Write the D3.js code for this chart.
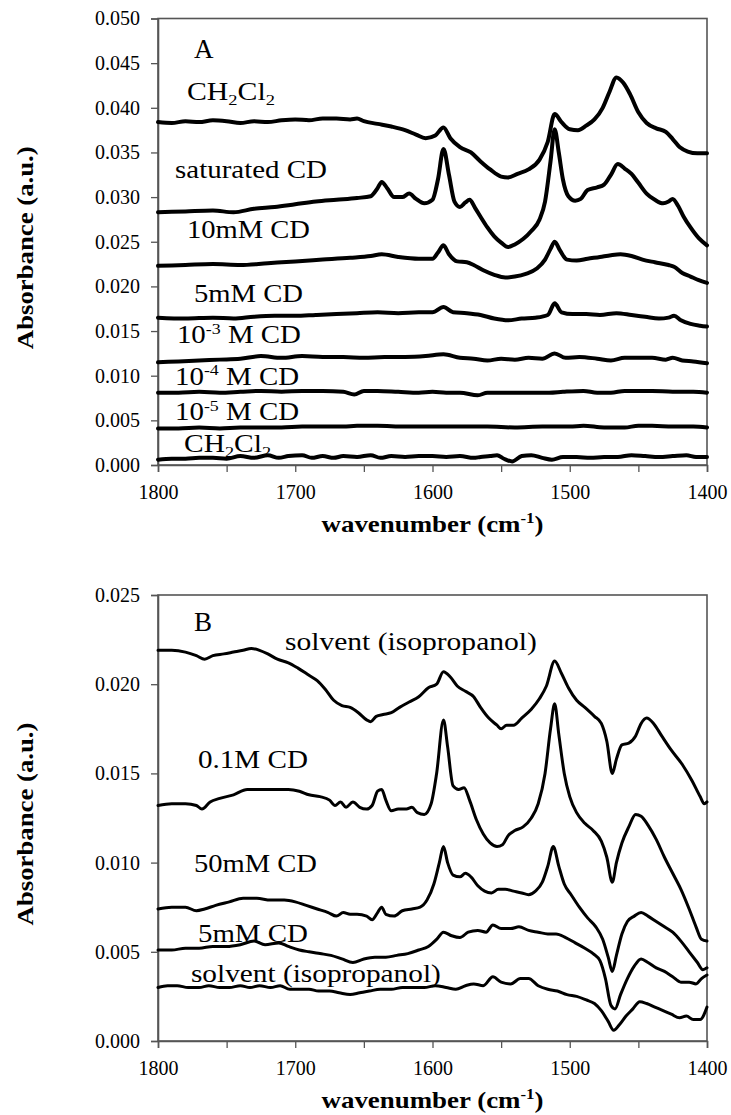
<!DOCTYPE html>
<html><head><meta charset="utf-8">
<script src="https://cdn.jsdelivr.net/npm/d3@7"></script>
<style>
body{margin:0;background:#fff}
svg{display:block}
text{font-family:"Liberation Serif","Times New Roman",serif;fill:#000}
</style>
</head><body>
<svg id="c" width="731" height="1115"></svg>
<script>
// ---------- DATA (wavenumber cm-1, absorbance a.u.) ----------
const xTicks = [1800,1750,1700,1650,1600,1550,1500,1450,1400];
const yTicksA = [0,0.005,0.01,0.015,0.02,0.025,0.03,0.035,0.04,0.045,0.05];
const yTicksB = [0,0.005,0.01,0.015,0.02,0.025];

// Panel A
const A_ch2cl2_top = [[1800,.0384],[1790,.0383],[1780,.0385],[1770,.0384],[1760,.0386],[1750,.0385],[1740,.0383],[1730,.0385],[1720,.0384],[1710,.0386],[1700,.0387],[1690,.0386],[1680,.0388],[1670,.0388],[1660,.0387],[1655,.0388],[1650,.0385],[1640,.0382],[1630,.0379],[1620,.0375],[1612,.0370],[1605,.0366],[1598,.0369],[1592,.0378],[1587,.0366],[1580,.0356],[1572,.0350],[1565,.0340],[1558,.0331],[1550,.0323],[1545,.0322],[1538,.0326],[1530,.0331],[1522,.0342],[1516,.0362],[1511,.0393],[1506,.0384],[1500,.0376],[1494,.0375],[1488,.0380],[1482,.0387],[1476,.0400],[1471,.0418],[1466,.0434],[1461,.0428],[1456,.0415],[1450,.0395],[1444,.0383],[1437,.0377],[1430,.0373],[1425,.0365],[1420,.0356],[1414,.0351],[1407,.0349],[1400,.0349]];
const A_saturated = [[1800,.0283],[1780,.0284],[1760,.0285],[1745,.0283],[1730,.0287],[1715,.0289],[1700,.0292],[1685,.0295],[1670,.0297],[1655,.0299],[1645,.0301],[1640,.0310],[1637,.0317],[1633,.0310],[1628,.0300],[1622,.0300],[1617,.0304],[1612,.0298],[1606,.0293],[1600,.0297],[1596,.0320],[1592,.0354],[1588,.0325],[1584,.0295],[1580,.0289],[1576,.0294],[1573,.0297],[1569,.0288],[1565,.0278],[1560,.0266],[1555,.0256],[1550,.0249],[1545,.0244],[1540,.0247],[1534,.0253],[1528,.0262],[1522,.0275],[1518,.0295],[1514,.0340],[1511,.0376],[1508,.0350],[1505,.0320],[1501,.0301],[1496,.0296],[1492,.0298],[1487,.0308],[1480,.0311],[1475,.0314],[1470,.0325],[1465,.0337],[1460,.0332],[1455,.0326],[1450,.0316],[1444,.0304],[1438,.0297],[1432,.0293],[1428,.0295],[1425,.0298],[1421,.0290],[1417,.0278],[1412,.0266],[1406,.0254],[1400,.0246]];
const A_10mM = [[1800,.0223],[1780,.0224],[1760,.0225],[1740,.0224],[1720,.0226],[1700,.0228],[1680,.0230],[1660,.0232],[1645,.0234],[1637,.0236],[1625,.0233],[1610,.0231],[1600,.0231],[1596,.0238],[1592,.0246],[1588,.0236],[1582,.0228],[1575,.0227],[1570,.0224],[1563,.0218],[1555,.0213],[1547,.0210],[1540,.0211],[1532,.0214],[1524,.0220],[1518,.0230],[1514,.0242],[1511,.0250],[1507,.0240],[1502,.0230],[1495,.0229],[1487,.0231],[1478,.0233],[1470,.0235],[1463,.0236],[1455,.0234],[1447,.0230],[1438,.0227],[1428,.0224],[1424,.0222],[1418,.0215],[1412,.0211],[1406,.0207],[1400,.0204]];
const A_5mM = [[1800,.0165],[1780,.0164],[1760,.0165],[1745,.0164],[1730,.0166],[1715,.0167],[1700,.0167],[1685,.0168],[1670,.0169],[1655,.0170],[1640,.0171],[1625,.0170],[1610,.0171],[1600,.0171],[1592,.0177],[1585,.0171],[1575,.0170],[1565,.0168],[1555,.0164],[1545,.0162],[1535,.0164],[1525,.0165],[1516,.0168],[1511,.0181],[1506,.0171],[1498,.0169],[1488,.0169],[1478,.0168],[1466,.0170],[1455,.0168],[1445,.0166],[1435,.0164],[1428,.0165],[1424,.0167],[1419,.0162],[1412,.0158],[1405,.0156],[1400,.0155]];
const A_1e3 = [[1800,.0115],[1785,.0116],[1770,.0117],[1755,.0118],[1740,.0119],[1725,.0122],[1710,.0120],[1695,.0122],[1680,.0121],[1665,.0121],[1650,.0120],[1635,.0121],[1620,.0121],[1605,.0122],[1592,.0124],[1580,.0120],[1570,.0119],[1560,.0117],[1550,.0119],[1540,.0118],[1530,.0120],[1520,.0119],[1511,.0125],[1503,.0120],[1493,.0121],[1480,.0119],[1470,.0117],[1460,.0120],[1450,.0120],[1440,.0120],[1430,.0118],[1425,.0120],[1418,.0117],[1410,.0116],[1400,.0114]];
const A_1e4 = [[1800,.0081],[1785,.0081],[1770,.0082],[1755,.0081],[1740,.0082],[1725,.0083],[1710,.0082],[1695,.0083],[1680,.0083],[1665,.0082],[1657,.0079],[1650,.0083],[1640,.0083],[1625,.0082],[1610,.0081],[1600,.0082],[1590,.0081],[1580,.0081],[1567,.0078],[1560,.0081],[1545,.0081],[1530,.0081],[1515,.0081],[1505,.0082],[1490,.0083],[1480,.0081],[1470,.0081],[1460,.0083],[1450,.0083],[1440,.0083],[1425,.0082],[1410,.0082],[1400,.0081]];
const A_1e5 = [[1800,.0041],[1785,.0041],[1770,.0042],[1755,.0041],[1740,.0042],[1725,.0042],[1710,.0042],[1695,.0043],[1680,.0043],[1665,.0043],[1655,.0044],[1640,.0044],[1620,.0043],[1600,.0043],[1580,.0043],[1560,.0043],[1540,.0042],[1520,.0043],[1500,.0043],[1490,.0044],[1475,.0042],[1460,.0042],[1450,.0044],[1440,.0044],[1425,.0043],[1410,.0043],[1400,.0042]];
const A_ch2cl2_bot = [[1800,.0006],[1790,.0007],[1780,.0007],[1770,.0008],[1760,.0008],[1750,.0007],[1740,.0010],[1730,.0008],[1720,.0011],[1712,.0008],[1705,.0010],[1695,.0011],[1688,.0008],[1680,.0010],[1672,.0008],[1665,.0010],[1655,.0009],[1645,.0011],[1638,.0008],[1630,.0010],[1620,.0009],[1610,.0010],[1600,.0010],[1590,.0009],[1580,.0010],[1570,.0008],[1565,.0009],[1558,.0010],[1553,.0011],[1548,.0007],[1542,.0004],[1535,.0010],[1528,.0011],[1520,.0008],[1513,.0006],[1505,.0009],[1495,.0009],[1485,.0008],[1475,.0009],[1465,.0009],[1455,.0011],[1445,.0010],[1435,.0009],[1425,.0010],[1415,.0011],[1408,.0009],[1400,.0009]];

// Panel B
const B_solvent_top = [[1800,.0219],[1790,.0219],[1780,.0218],[1772,.0216],[1766,.0214],[1760,.0216],[1752,.0217],[1745,.0218],[1738,.0219],[1732,.0220],[1726,.0219],[1720,.0217],[1713,.0214],[1705,.0212],[1698,.0209],[1690,.0205],[1684,.0202],[1678,.0197],[1672,.0191],[1666,.0188],[1660,.0187],[1654,.0184],[1648,.0180],[1645,.0179],[1641,.0182],[1636,.0183],[1630,.0184],[1624,.0187],[1617,.0190],[1610,.0193],[1603,.0198],[1597,.0200],[1592,.0207],[1587,.0204],[1582,.0199],[1576,.0196],[1570,.0193],[1565,.0187],[1559,.0181],[1553,.0177],[1550,.0175],[1546,.0177],[1541,.0177],[1535,.0181],[1528,.0186],[1522,.0192],[1517,.0199],[1511,.0213],[1506,.0206],[1501,.0198],[1495,.0191],[1489,.0187],[1482,.0182],[1477,.0178],[1473,.0168],[1469,.0150],[1466,.0158],[1462,.0166],[1457,.0167],[1452,.0171],[1448,.0178],[1444,.0181],[1439,.0178],[1433,.0171],[1426,.0163],[1418,.0155],[1411,.0146],[1405,.0137],[1402,.0133],[1400,.0134]];
const B_01M = [[1800,.0132],[1790,.0133],[1780,.0133],[1772,.0132],[1768,.0130],[1762,.0134],[1755,.0136],[1745,.0138],[1735,.0141],[1725,.0141],[1715,.0141],[1705,.0141],[1697,.0140],[1690,.0138],[1682,.0137],[1675,.0135],[1671,.0132],[1667,.0134],[1663,.0131],[1658,.0134],[1653,.0131],[1648,.0130],[1644,.0132],[1640,.0140],[1637,.0141],[1634,.0135],[1630,.0129],[1625,.0130],[1619,.0130],[1615,.0131],[1611,.0128],[1606,.0127],[1601,.0133],[1597,.0150],[1592,.0180],[1589,.0165],[1585,.0143],[1581,.0141],[1577,.0142],[1573,.0135],[1568,.0124],[1563,.0116],[1558,.0111],[1553,.0109],[1549,.0110],[1545,.0115],[1540,.0118],[1534,.0120],[1528,.0125],[1523,.0133],[1518,.0150],[1514,.0175],[1511,.0189],[1508,.0172],[1504,.0150],[1500,.0137],[1495,.0128],[1489,.0122],[1483,.0118],[1477,.0112],[1473,.0103],[1469,.0089],[1466,.0100],[1462,.0111],[1457,.0120],[1452,.0127],[1448,.0126],[1443,.0121],[1437,.0113],[1431,.0103],[1425,.0094],[1419,.0085],[1413,.0074],[1408,.0064],[1404,.0057],[1400,.0056]];
const B_50mM = [[1800,.0074],[1790,.0075],[1780,.0075],[1772,.0073],[1766,.0074],[1758,.0076],[1748,.0078],[1738,.0080],[1728,.0080],[1718,.0079],[1708,.0079],[1700,.0078],[1692,.0076],[1684,.0074],[1676,.0072],[1670,.0070],[1665,.0072],[1660,.0071],[1655,.0071],[1648,.0070],[1644,.0068],[1640,.0072],[1637,.0075],[1634,.0071],[1628,.0070],[1622,.0073],[1615,.0074],[1609,.0075],[1604,.0079],[1599,.0088],[1595,.0100],[1592,.0109],[1589,.0100],[1585,.0093],[1580,.0092],[1576,.0094],[1572,.0092],[1567,.0087],[1562,.0084],[1557,.0083],[1552,.0085],[1547,.0085],[1541,.0084],[1535,.0083],[1530,.0082],[1525,.0084],[1520,.0089],[1516,.0098],[1512,.0109],[1508,.0098],[1504,.0088],[1499,.0082],[1493,.0075],[1487,.0069],[1481,.0064],[1476,.0057],[1472,.0047],[1469,.0039],[1466,.0048],[1462,.0060],[1458,.0067],[1453,.0070],[1448,.0072],[1443,.0070],[1437,.0067],[1431,.0064],[1425,.0061],[1419,.0056],[1413,.0050],[1407,.0044],[1403,.0040],[1400,.0041]];
const B_5mM = [[1800,.0051],[1790,.0051],[1780,.0052],[1770,.0052],[1760,.0053],[1750,.0053],[1740,.0054],[1730,.0056],[1722,.0054],[1712,.0055],[1705,.0053],[1697,.0051],[1690,.0050],[1682,.0049],[1674,.0048],[1666,.0046],[1658,.0044],[1650,.0046],[1642,.0047],[1634,.0047],[1626,.0048],[1618,.0049],[1610,.0051],[1603,.0053],[1597,.0057],[1592,.0061],[1586,.0059],[1580,.0058],[1574,.0061],[1567,.0062],[1561,.0061],[1556,.0065],[1550,.0063],[1543,.0063],[1537,.0064],[1530,.0062],[1523,.0061],[1516,.0060],[1510,.0060],[1503,.0058],[1496,.0055],[1489,.0052],[1483,.0049],[1478,.0045],[1474,.0035],[1470,.0020],[1467,.0018],[1463,.0026],[1458,.0035],[1453,.0042],[1448,.0046],[1443,.0044],[1437,.0041],[1431,.0039],[1425,.0036],[1419,.0033],[1413,.0033],[1408,.0032],[1404,.0035],[1400,.0037]];
const B_solvent_bot = [[1800,.0030],[1793,.0031],[1786,.0031],[1778,.0030],[1770,.0030],[1763,.0031],[1755,.0030],[1748,.0030],[1740,.0031],[1733,.0030],[1726,.0031],[1718,.0030],[1711,.0031],[1704,.0029],[1697,.0029],[1690,.0029],[1683,.0028],[1675,.0028],[1668,.0027],[1660,.0026],[1653,.0027],[1646,.0028],[1638,.0029],[1630,.0029],[1622,.0030],[1614,.0030],[1606,.0030],[1598,.0031],[1590,.0030],[1583,.0029],[1576,.0031],[1570,.0032],[1563,.0031],[1556,.0036],[1550,.0033],[1543,.0032],[1536,.0035],[1530,.0035],[1523,.0031],[1516,.0029],[1509,.0028],[1502,.0026],[1495,.0025],[1488,.0023],[1482,.0021],[1477,.0017],[1472,.0011],[1468,.0006],[1464,.0009],[1459,.0014],[1454,.0018],[1449,.0022],[1444,.0021],[1438,.0019],[1432,.0017],[1426,.0015],[1420,.0013],[1415,.0014],[1410,.0012],[1405,.0012],[1400,.0019]];

// Series labels: text parts, anchor position in data units (wavenumber, absorbance)
const labelsA = [
  {parts:[["CH",""],["2","sub"],["Cl",""],["2","sub"]], w:1778.9, v:.0409, width:88},
  {parts:[["saturated CD",""]], w:1787.6, v:.0321, width:152},
  {parts:[["10mM CD",""]], w:1778.9, v:.0254, width:123},
  {parts:[["5mM CD",""]], w:1773.8, v:.01825, width:109},
  {parts:[["10",""],["-3","sup"],[" M CD",""]], w:1786.2, v:.01366, width:124},
  {parts:[["10",""],["-4","sup"],[" M CD",""]], w:1787.6, v:.00896, width:124},
  {parts:[["10",""],["-5","sup"],[" M CD",""]], w:1787.6, v:.00504, width:124},
  {parts:[["CH",""],["2","sub"],["Cl",""],["2","sub"]], w:1781, v:.00146, width:87}
];
const labelsB = [
  {parts:[["solvent (isopropanol)",""]], w:1707.5, v:.02189, width:252},
  {parts:[["0.1M CD",""]], w:1770.9, v:.01529, width:110},
  {parts:[["50mM CD",""]], w:1773.8, v:.00946, width:123},
  {parts:[["5mM CD",""]], w:1770.9, v:.00554, width:110},
  {parts:[["solvent (isopropanol)",""]], w:1776, v:.0033, width:250}
];

// ---------- DRAW ----------
const svg = d3.select("#c");
const x = d3.scaleLinear().domain([1800,1400]).range([158,707]);

function fitText(sel, width, anchorMiddle){
  sel.each(function(){
    const bb = this.getBBox();
    const sx = width / bb.width;
    const el = d3.select(this);
    const tx = +el.attr("data-tx"), ty = +el.attr("data-ty");
    const rot = el.attr("data-rot");
    el.attr("transform", `translate(${tx},${ty})${rot?` rotate(${rot})`:""} scale(${sx},1)`);
  });
}

function addParts(textSel, parts, fs){
  let shift = 0;
  parts.forEach(([s,type])=>{
    const ts = textSel.append("tspan").text(s);
    if(type==="sub"){ ts.attr("font-size", fs*0.62).attr("dy", fs*0.2 - shift); shift = fs*0.2; }
    else if(type==="sup"){ ts.attr("font-size", fs*0.62).attr("dy", -fs*0.38 - shift); shift = -fs*0.38; }
    else { ts.attr("dy", -shift); shift = 0; }
  });
}

function panel(cfg){
  const y = d3.scaleLinear().domain([0,cfg.ymax]).range([cfg.bottom, cfg.top]);
  const g = svg.append("g");

  // frame
  g.append("rect").attr("x",x(1800)).attr("y",cfg.top)
    .attr("width",x(1400)-x(1800)).attr("height",cfg.bottom-cfg.top)
    .attr("fill","none").attr("stroke","#555").attr("stroke-width",1.6);

  // y axis
  const ya = g.append("g").attr("transform",`translate(${x(1800)},0)`)
    .call(d3.axisLeft(y).tickValues(cfg.yticks).tickFormat(d3.format(".3f")).tickSize(7).tickPadding(11));
  ya.select(".domain").attr("stroke","#555").attr("stroke-width",1.6);
  ya.selectAll(".tick line").attr("stroke","#555").attr("stroke-width",1.3);
  ya.selectAll("text").attr("font-size",20).attr("font-family","Liberation Serif").attr("fill","#222");

  // x axis
  const xa = g.append("g").attr("transform",`translate(0,${cfg.bottom})`)
    .call(d3.axisBottom(x).tickValues(xTicks).tickFormat(d=> d%100===0 ? d : "").tickSize(7).tickPadding(13));
  xa.select(".domain").attr("stroke","#555").attr("stroke-width",1.6);
  xa.selectAll(".tick line").attr("stroke","#555").attr("stroke-width",1.3);
  xa.selectAll("text").attr("font-size",20).attr("font-family","Liberation Serif").attr("fill","#222");

  // curves
  const line = d3.line().x(d=>x(d[0])).y(d=>y(d[1])).curve(d3.curveMonotoneX);
  cfg.series.forEach(s=>{
    g.append("path").datum(s).attr("d",line).attr("fill","none")
      .attr("stroke","#000").attr("stroke-width",cfg.sw)
      .attr("stroke-linejoin","round").attr("stroke-linecap","round");
  });

  // panel letter
  g.append("text").attr("x",x(cfg.letterPos[0])).attr("y",y(cfg.letterPos[1]))
    .attr("font-size",27).text(cfg.letter);

  // series labels
  cfg.labels.forEach(l=>{
    const t = g.append("text").attr("x",0).attr("y",0).attr("font-size",25)
      .attr("data-tx",x(l.w)).attr("data-ty",y(l.v));
    addParts(t,l.parts,25);
    fitText(t,l.width);
  });

  // axis titles
  const xt = g.append("text").attr("text-anchor","middle").attr("font-weight","bold").attr("font-size",24)
    .attr("x",0).attr("y",0)
    .attr("data-tx",(x(1800)+x(1400))/2).attr("data-ty",cfg.xTitleY);
  xt.append("tspan").text("wavenumber (cm");
  xt.append("tspan").text("-1").attr("font-size",15).attr("dy",-9);
  xt.append("tspan").text(")").attr("dy",9);
  fitText(xt,222);

  const yt = g.append("text").attr("text-anchor","middle").attr("font-weight","bold").attr("font-size",24)
    .attr("x",0).attr("y",0)
    .attr("data-tx",33).attr("data-ty",(cfg.top+cfg.bottom)/2+6).attr("data-rot",-90)
    .text("Absorbance (a.u.)");
  fitText(yt,203);
}

panel({top:18.5,bottom:465,ymax:0.05,yticks:yTicksA,sw:4,
  series:[A_ch2cl2_top,A_saturated,A_10mM,A_5mM,A_1e3,A_1e4,A_1e5,A_ch2cl2_bot],
  labels:labelsA,letter:"A",letterPos:[1773.8,.0456],xTitleY:532});
panel({top:595,bottom:1041,ymax:0.025,yticks:yTicksB,sw:3,
  series:[B_solvent_top,B_01M,B_50mM,B_5mM,B_solvent_bot],
  labels:labelsB,letter:"B",letterPos:[1773.8,.0230],xTitleY:1108});
</script>
</body></html>
